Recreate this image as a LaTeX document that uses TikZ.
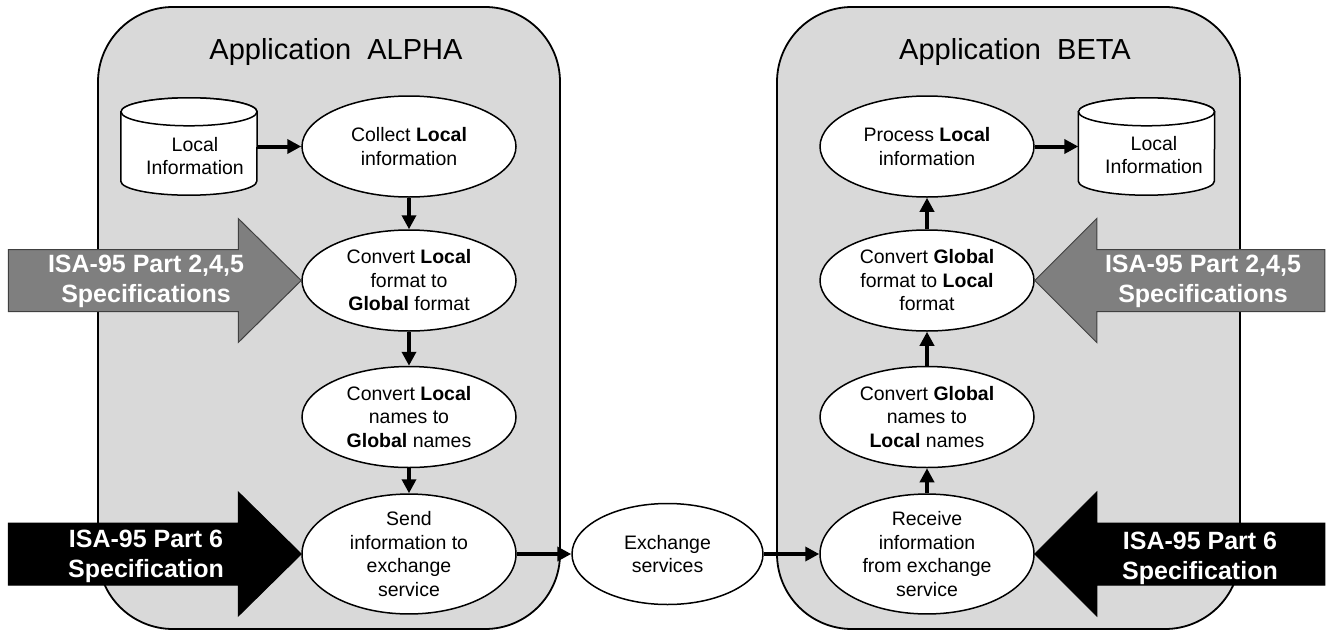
\documentclass[tikz,border=0pt]{standalone}
\usepackage{fontspec}
\setmainfont{Liberation Sans}
\usetikzlibrary{shapes.geometric, arrows.meta}
\definecolor{appgray}{RGB}{217,217,217}
\definecolor{specgray}{RGB}{127,127,127}
\definecolor{specedge}{RGB}{64,64,64}

\begin{document}
\begin{tikzpicture}[x=1pt, y=-1pt,
        app/.style={draw, fill=appgray, line width=1.8pt, rounded corners=75pt, minimum width=462pt, minimum height=622pt},
        apptitle/.style={font=\fontsize{29}{35}\selectfont},
        task/.style={draw, ellipse, fill=white, line width=1.5pt, minimum width=214pt, minimum height=101pt, inner sep=0pt, align=center, font=\fontsize{19.5}{23.5}\selectfont},
        store/.style={minimum width=136pt, minimum height=97pt, inner sep=0pt},
        storeline/.style={draw, fill=white, line width=1.5pt},
        storetext/.style={align=center, font=\fontsize{19.5}{23.5}\selectfont},
        flow/.style={line width=4pt, -{Triangle[length=14pt, width=14pt]}},
        spec/.style={font=\bfseries\fontsize{25}{30}\selectfont, text=white, align=center}]

        \useasboundingbox (0,0) rectangle (1333,632);

        \node [app] (appA) at (329, 318) {};
        \node [app, minimum width=463pt] (appB) at (1008.5, 318) {};
        \node [apptitle] (tA) at (336, 52) {Application\ \ ALPHA};
        \node [apptitle] (tB) at (1015, 52) {Application\ \ BETA};

        % local databases
        \node [store] (dA) at (189, 146.5) {};
        \draw [storeline] ([yshift=-14pt]dA.north west) -- ([yshift=14pt]dA.south west) arc (180:360:68pt and 14pt) -- ([yshift=-14pt]dA.north east) arc (0:180:68pt and 14pt) -- cycle;
        \draw [storeline] ([yshift=-14pt]dA.north) ellipse (68pt and 14pt);
        \node [storetext] (dAt) at (195, 156) {Local\\Information};

        \node [store] (dB) at (1146.5, 146.5) {};
        \draw [storeline] ([yshift=-14pt]dB.north west) -- ([yshift=14pt]dB.south west) arc (180:360:68pt and 14pt) -- ([yshift=-14pt]dB.north east) arc (0:180:68pt and 14pt) -- cycle;
        \draw [storeline] ([yshift=-14pt]dB.north) ellipse (68pt and 14pt);
        \node [storetext] (dBt) at (1154, 155) {Local\\Information};

        \node [task] (A1) at (409, 146.5) {Collect \textbf{Local}\\information};
        \node [task] (A2) at (409, 280.5) {Convert \textbf{Local}\\format to\\\textbf{Global} format};
        \node [task] (A3) at (409, 417) {Convert \textbf{Local}\\names to\\\textbf{Global} names};
        \node [task] (A4) at (409, 554) {Send\\information to\\exchange\\service};

        \node [task, minimum width=191pt] (X) at (667.5, 554) {Exchange\\services};

        \node [task] (B1) at (927, 146.5) {Process \textbf{Local}\\information};
        \node [task] (B2) at (927, 280.5) {Convert \textbf{Global}\\format to \textbf{Local}\\format};
        \node [task] (B3) at (927, 417) {Convert \textbf{Global}\\names to\\\textbf{Local} names};
        \node [task] (B4) at (927, 554) {Receive\\information\\from exchange\\service};

        \draw [flow] (dA) -- (A1);
        \draw [flow] (A1) -- (A2);
        \draw [flow] (A2) -- (A3);
        \draw [flow] (A3) -- (A4);
        \draw [flow] (A4) -- (X);
        \draw [flow] (X) -- (B4);
        \draw [flow] (B4) -- (B3);
        \draw [flow] (B3) -- (B2);
        \draw [flow] (B2) -- (B1);
        \draw [flow] (B1) -- (dB);

        % specification arrows
        \draw [fill=specgray, draw=specedge, line width=1pt] (A2.west) -- ++(-63,-62) -- ++(0,31) -- ++(-230,0) -- ++(0,62) -- ++(230,0) -- ++(0,31) -- cycle;
        \draw [fill=black, line width=1pt] (A4.west) -- ++(-63,-62) -- ++(0,31) -- ++(-230,0) -- ++(0,62) -- ++(230,0) -- ++(0,31) -- cycle;
        \draw [fill=specgray, draw=specedge, line width=1pt] (B2.east) -- ++(62,-62) -- ++(0,31) -- ++(228,0) -- ++(0,62) -- ++(-228,0) -- ++(0,31) -- cycle;
        \draw [fill=black, line width=1pt] (B4.east) -- ++(62,-62) -- ++(0,31) -- ++(228,0) -- ++(0,62) -- ++(-228,0) -- ++(0,31) -- cycle;

        \node [spec] (sA1) at (146, 281) {ISA-95 Part 2,4,5\\Specifications};
        \node [spec] (sA2) at (146, 556) {ISA-95 Part 6\\Specification};
        \node [spec] (sB1) at (1203, 281) {ISA-95 Part 2,4,5\\Specifications};
        \node [spec] (sB2) at (1200, 558) {ISA-95 Part 6\\Specification};
    \end{tikzpicture}
\end{document}
